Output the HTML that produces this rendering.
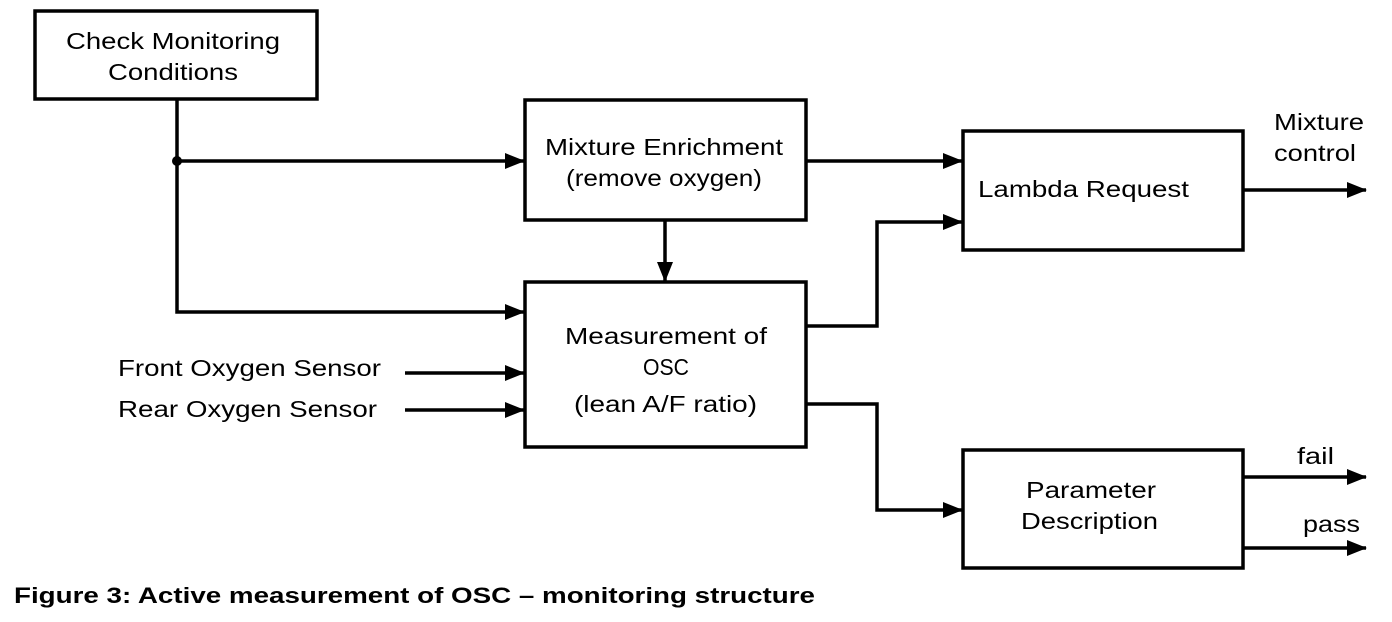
<!DOCTYPE html>
<html><head><meta charset="utf-8"><style>
html,body{margin:0;padding:0;background:#fff;width:1392px;height:622px;overflow:hidden}
text{font-family:"Liberation Sans",Arial,sans-serif;font-size:23px;fill:#000}
</style></head><body>
<svg width="1392" height="622" viewBox="0 0 1392 622" xmlns="http://www.w3.org/2000/svg">
<defs><marker id="a" markerWidth="20" markerHeight="16" refX="19" refY="8" orient="auto" markerUnits="userSpaceOnUse"><path d="M0,0 L20,8 L0,16 Z" fill="#000"/></marker></defs>
<g fill="none" stroke="#000" stroke-width="3.5">
<rect x="35" y="11" width="282" height="88"/>
<rect x="525" y="100" width="281" height="120"/>
<rect x="525" y="282" width="281" height="165"/>
<rect x="963" y="131" width="280" height="119"/>
<rect x="963" y="450" width="280" height="118"/>
<path d="M177,99 V312 H524" marker-end="url(#a)"/>
<path d="M177,161 H524" marker-end="url(#a)"/>
<path d="M665,220 V281" marker-end="url(#a)"/>
<path d="M806,161 H962" marker-end="url(#a)"/>
<path d="M806,326 H877 V222 H962" marker-end="url(#a)"/>
<path d="M806,404 H877 V510 H962" marker-end="url(#a)"/>
<path d="M405,373 H524" marker-end="url(#a)"/>
<path d="M405,410 H524" marker-end="url(#a)"/>
<path d="M1243,190 H1366" marker-end="url(#a)"/>
<path d="M1243,477 H1366" marker-end="url(#a)"/>
<path d="M1243,548 H1366" marker-end="url(#a)"/>
</g>
<circle cx="177" cy="161" r="5" fill="#000"/>
<text x="66" y="49" textLength="214" lengthAdjust="spacingAndGlyphs">Check Monitoring</text>
<text x="108" y="80" textLength="130" lengthAdjust="spacingAndGlyphs">Conditions</text>
<text x="545" y="155" textLength="238" lengthAdjust="spacingAndGlyphs">Mixture Enrichment</text>
<text x="566" y="186" textLength="196" lengthAdjust="spacingAndGlyphs">(remove oxygen)</text>
<text x="565" y="344" textLength="202" lengthAdjust="spacingAndGlyphs">Measurement of</text>
<text x="643" y="375" textLength="46" lengthAdjust="spacingAndGlyphs">OSC</text>
<text x="574" y="412" textLength="183" lengthAdjust="spacingAndGlyphs">(lean A/F ratio)</text>
<text x="978" y="197" textLength="211" lengthAdjust="spacingAndGlyphs">Lambda Request</text>
<text x="1274" y="130" textLength="90" lengthAdjust="spacingAndGlyphs">Mixture</text>
<text x="1274" y="161" textLength="82" lengthAdjust="spacingAndGlyphs">control</text>
<text x="1026" y="498" textLength="130" lengthAdjust="spacingAndGlyphs">Parameter</text>
<text x="1021" y="529" textLength="137" lengthAdjust="spacingAndGlyphs">Description</text>
<text x="1297" y="464" textLength="37" lengthAdjust="spacingAndGlyphs">fail</text>
<text x="1303" y="532" textLength="57" lengthAdjust="spacingAndGlyphs">pass</text>
<text x="118" y="376" textLength="263" lengthAdjust="spacingAndGlyphs">Front Oxygen Sensor</text>
<text x="118" y="417" textLength="259" lengthAdjust="spacingAndGlyphs">Rear Oxygen Sensor</text>
<text x="14" y="603" font-weight="bold" style="font-size:22px" textLength="801" lengthAdjust="spacingAndGlyphs">Figure 3: Active measurement of OSC – monitoring structure</text>
</svg>
</body></html>
